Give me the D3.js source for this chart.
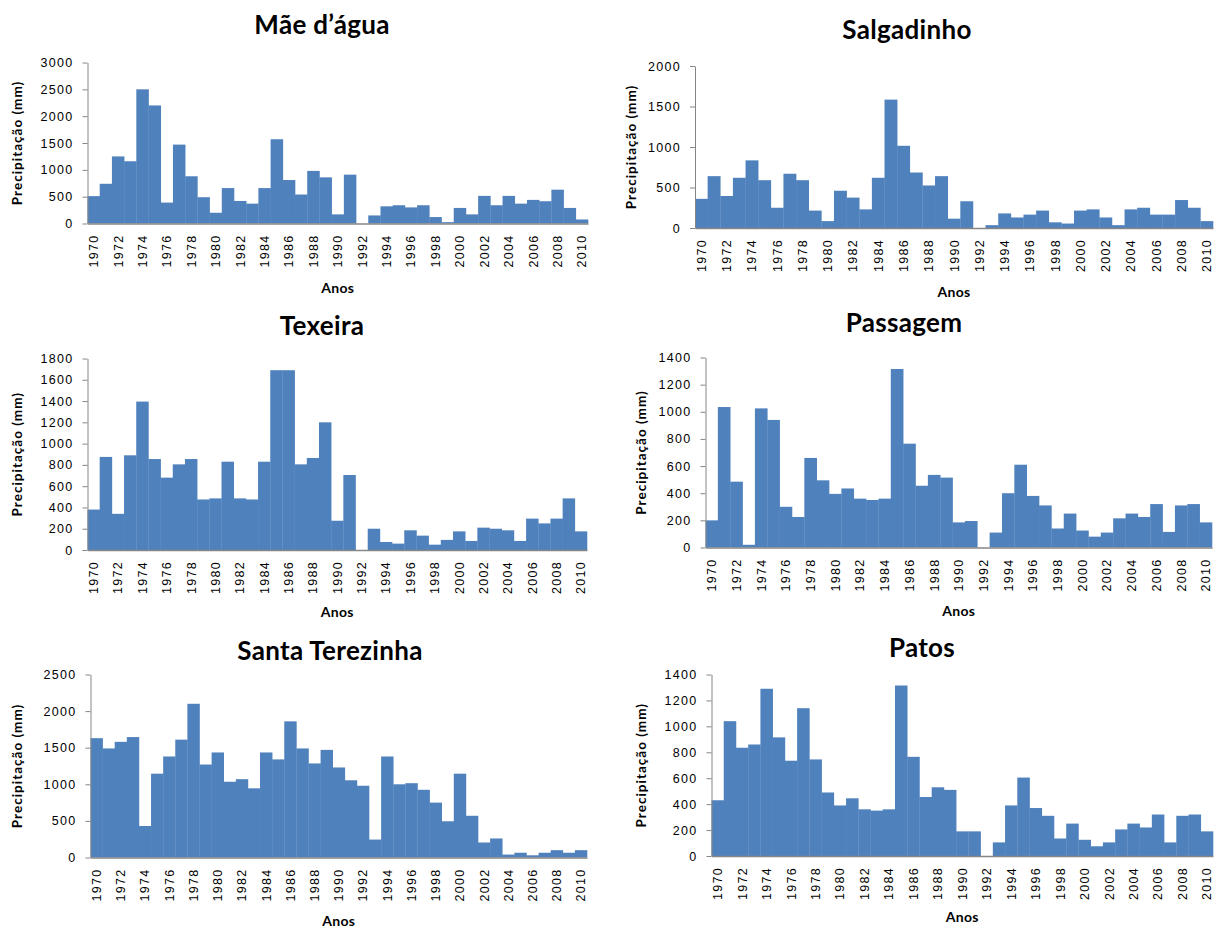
<!DOCTYPE html>
<html>
<head>
<meta charset="utf-8">
<script src="https://cdn.jsdelivr.net/npm/d3@7"></script>
<style>
  body { margin: 0; background: #fff; }
  svg { display: block; }
  .tick text { font-family: "Liberation Sans", Arial, sans-serif; font-size: 12.5px; letter-spacing: 1.3px; fill: #000; }
  .titulo { font-family: Lato, "Open Sans", sans-serif; font-weight: bold; font-size: 26px; letter-spacing: 0.3px; }
  .rotulo { font-family: Lato, "Open Sans", sans-serif; font-weight: bold; font-size: 13.5px; letter-spacing: 1px; }
</style>
</head>
<body>
<div id="chart"></div>
<script>
var anos = [1970, 1971, 1972, 1973, 1974, 1975, 1976, 1977, 1978, 1979,
            1980, 1981, 1982, 1983, 1984, 1985, 1986, 1987, 1988, 1989,
            1990, 1991, 1992, 1993, 1994, 1995, 1996, 1997, 1998, 1999,
            2000, 2001, 2002, 2003, 2004, 2005, 2006, 2007, 2008, 2009, 2010];
var anosRotulo = [1970, 1972, 1974, 1976, 1978, 1980, 1982, 1984, 1986, 1988, 1990,
                  1992, 1994, 1996, 1998, 2000, 2002, 2004, 2006, 2008, 2010];

// precipitação anual (mm) por posto
var maeDagua = [510, 740, 1250, 1160, 2500, 2200, 390, 1470, 880, 490,
                200, 660, 420, 370, 660, 1570, 810, 540, 980, 860,
                170, 910, 0, 150, 320, 340, 300, 340, 120, 25,
                290, 170, 515, 340, 515, 370, 440, 415, 630, 290, 75];
var salgadinho = [360, 640, 395, 620, 835, 590, 250, 670, 590, 215,
                  85, 460, 375, 230, 620, 1585, 1015, 685, 525, 640,
                  115, 330, 0, 35, 180, 130, 165, 215, 70, 55,
                  215, 230, 130, 35, 230, 250, 165, 165, 345, 250, 85];
var texeira = [380, 875, 340, 890, 1395, 855, 680, 805, 855, 475,
               485, 830, 485, 475, 830, 1690, 1690, 805, 865, 1200,
               275, 705, 0, 200, 75, 60, 185, 135, 50, 95,
               175, 85, 210, 200, 185, 85, 295, 250, 295, 485, 175];
var passagem = [200, 1035, 485, 20, 1025, 940, 300, 225, 660, 495,
                395, 435, 360, 350, 360, 1315, 765, 455, 535, 515,
                185, 195, 0, 110, 400, 610, 380, 310, 140, 250,
                125, 80, 110, 215, 250, 225, 320, 115, 310, 320, 185];
var santaTerezinha = [1630, 1490, 1580, 1645, 430, 1145, 1380, 1610, 2100, 1270,
                      1435, 1035, 1070, 945, 1435, 1340, 1860, 1490, 1285, 1470,
                      1230, 1055, 980, 245, 1380, 1000, 1015, 925, 750, 495,
                      1145, 570, 205, 260, 40, 65, 30, 65, 100, 65, 100];
var patos = [430, 1040, 835, 860, 1290, 915, 735, 1140, 745, 490,
             390, 445, 360, 350, 360, 1315, 765, 455, 530, 510,
             190, 190, 0, 105, 390, 605, 370, 310, 135, 250,
             125, 75, 105, 205, 250, 220, 320, 105, 310, 320, 190];

var ticks3000 = [0, 500, 1000, 1500, 2000, 2500, 3000];
var ticks2000 = [0, 500, 1000, 1500, 2000];
var ticks1800 = [0, 200, 400, 600, 800, 1000, 1200, 1400, 1600, 1800];
var ticks1400 = [0, 200, 400, 600, 800, 1000, 1200, 1400];
var ticks2500 = [0, 500, 1000, 1500, 2000, 2500];

var svg = d3.select("#chart").append("svg")
    .attr("width", 1221)
    .attr("height", 932);

var paineis = [
  {titulo: "Mãe d’água", dados: maeDagua, ticks: ticks3000,
   x0: 87.5, x1: 588, yTopo: 62.5, yBase: 223.5, tx: 322, ty: 34, lx: 17, ay: 293},
  {titulo: "Salgadinho", dados: salgadinho, ticks: ticks2000,
   x0: 695, x1: 1213, yTopo: 66, yBase: 228, tx: 907, ty: 39, lx: 631, ay: 297},
  {titulo: "Texeira", dados: texeira, ticks: ticks1800,
   x0: 87.5, x1: 587, yTopo: 358.5, yBase: 550, tx: 322, ty: 335, lx: 17, ay: 617},
  {titulo: "Passagem", dados: passagem, ticks: ticks1400,
   x0: 705.5, x1: 1212, yTopo: 357.5, yBase: 547.5, tx: 904, ty: 332, lx: 641, ay: 616},
  {titulo: "Santa Terezinha", dados: santaTerezinha, ticks: ticks2500,
   x0: 90.5, x1: 587, yTopo: 674.5, yBase: 857.5, tx: 330, ty: 660, lx: 17, ay: 926},
  {titulo: "Patos", dados: patos, ticks: ticks1400,
   x0: 711.5, x1: 1213, yTopo: 674.5, yBase: 856, tx: 922, ty: 657, lx: 641, ay: 922}
];

paineis.forEach(desenhaPainel);

function desenhaPainel(p) {
  var x = d3.scaleBand().domain(anos).range([p.x0, p.x1]).padding(0);
  var y = d3.scaleLinear().domain([0, d3.max(p.ticks)]).range([p.yBase, p.yTopo]);

  var g = svg.append("g");

  g.selectAll("rect.barra")
    .data(p.dados)
    .enter().append("rect")
    .attr("class", "barra")
    .attr("x", function(d, i) { return x(anos[i]); })
    .attr("y", function(d) { return y(d); })
    .attr("width", x.bandwidth() + 0.3)
    .attr("height", function(d) { return y(0) - y(d); })
    .attr("fill", "#4F81BD");

  var eixoY = g.append("g")
    .attr("transform", "translate(" + p.x0 + ",0)")
    .call(d3.axisLeft(y).tickValues(p.ticks).tickFormat(d3.format("d"))
          .tickSize(5).tickSizeOuter(0).tickPadding(9));
  eixoY.selectAll("line, path").attr("stroke", "#868686");

  var eixoX = g.append("g")
    .attr("transform", "translate(0," + p.yBase + ")")
    .call(d3.axisBottom(x).tickValues(anosRotulo).tickSize(0).tickSizeOuter(0));
  eixoX.select("path").attr("stroke", "#868686").attr("stroke-width", 1.5);
  eixoX.selectAll("text")
    .attr("transform", "rotate(-90)")
    .attr("x", -11)
    .attr("y", 0)
    .attr("dy", "0.36em")
    .style("text-anchor", "end");

  svg.append("text")
    .attr("class", "titulo")
    .attr("x", p.tx)
    .attr("y", p.ty)
    .attr("text-anchor", "middle")
    .text(p.titulo);

  svg.append("text")
    .attr("class", "rotulo")
    .attr("transform", "translate(" + p.lx + "," + (p.yTopo + p.yBase) / 2 + ") rotate(-90)")
    .attr("dy", "0.35em")
    .attr("text-anchor", "middle")
    .text("Precipitação (mm)");

  svg.append("text")
    .attr("class", "rotulo")
    .attr("x", (p.x0 + p.x1) / 2)
    .attr("y", p.ay)
    .attr("text-anchor", "middle")
    .style("font-size", "14px")
    .style("letter-spacing", "0.3px")
    .text("Anos");
}
</script>
</body>
</html>
